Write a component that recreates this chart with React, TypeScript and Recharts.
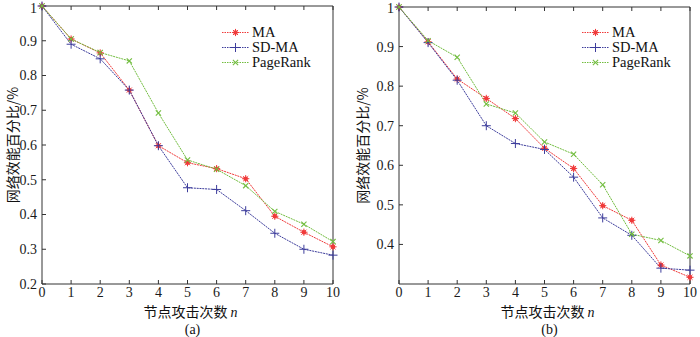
import { Line, LineChart, XAxis, YAxis, Legend } from 'recharts';

const attacks = [0, 1, 2, 3, 4, 5, 6, 7, 8, 9, 10];

// (a)
const maA = [1, 0.905, 0.865, 0.758, 0.598, 0.549, 0.532, 0.503, 0.395, 0.349, 0.307];
const sdmaA = [1, 0.89, 0.848, 0.758, 0.598, 0.477, 0.472, 0.411, 0.346, 0.3, 0.283];
const prA = [1, 0.905, 0.866, 0.842, 0.692, 0.557, 0.53, 0.483, 0.409, 0.372, 0.322];

// (b)
const maB = [1, 0.912, 0.818, 0.769, 0.718, 0.643, 0.592, 0.498, 0.461, 0.348, 0.317];
const sdmaB = [1, 0.91, 0.815, 0.7, 0.655, 0.64, 0.57, 0.467, 0.423, 0.34, 0.335];
const prB = [1, 0.915, 0.873, 0.755, 0.732, 0.659, 0.628, 0.551, 0.426, 0.41, 0.371];

const yTicksA = [0.2, 0.3, 0.4, 0.5, 0.6, 0.7, 0.8, 0.9, 1];
const yTicksB = [0.4, 0.5, 0.6, 0.7, 0.8, 0.9, 1];

const RED = '#f03a3a';
const BLUE = '#3d3d9c';
const GREEN = '#72bd3f';
const AXIS = '#333';
const SERIF = '"Liberation Serif", "Times New Roman", serif';
const CJK = '"Noto Sans CJK SC", sans-serif';

function buildRows(ma: number[], sd: number[], pr: number[]) {
  return attacks.map((n, i) => ({ n, MA: ma[i], 'SD-MA': sd[i], PageRank: pr[i] }));
}

function StarMark({ cx, cy }: { cx: number; cy: number }) {
  const r = 3.6;
  return (
    <g stroke={RED} strokeWidth={1} fill={RED}>
      <circle cx={cx} cy={cy} r={2.2} stroke="none" />
      <line x1={cx - r} y1={cy} x2={cx + r} y2={cy} />
      <line x1={cx} y1={cy - r} x2={cx} y2={cy + r} />
      <line x1={cx - r * 0.7} y1={cy - r * 0.7} x2={cx + r * 0.7} y2={cy + r * 0.7} />
      <line x1={cx - r * 0.7} y1={cy + r * 0.7} x2={cx + r * 0.7} y2={cy - r * 0.7} />
    </g>
  );
}

function PlusMark({ cx, cy }: { cx: number; cy: number }) {
  const r = 4.5;
  return (
    <g stroke={BLUE} strokeWidth={1}>
      <line x1={cx - r} y1={cy} x2={cx + r} y2={cy} />
      <line x1={cx} y1={cy - r} x2={cx} y2={cy + r} />
    </g>
  );
}

function CrossMark({ cx, cy }: { cx: number; cy: number }) {
  const r = 2.6;
  return (
    <g stroke={GREEN} strokeWidth={1.1}>
      <line x1={cx - r} y1={cy - r} x2={cx + r} y2={cy + r} />
      <line x1={cx - r} y1={cy + r} x2={cx + r} y2={cy - r} />
    </g>
  );
}

const MARKS: Record<string, (p: { cx: number; cy: number }) => JSX.Element> = {
  MA: StarMark,
  'SD-MA': PlusMark,
  PageRank: CrossMark
};

const COLORS: Record<string, string> = { MA: RED, 'SD-MA': BLUE, PageRank: GREEN };

function dotFor(name: string) {
  const Mark = MARKS[name];
  return (props: any) => {
    if (props.cx == null || props.cy == null) return <g key={`${name}-${props.index}`} />;
    return (
      <g key={`${name}-${props.index}`}>
        <Mark cx={props.cx} cy={props.cy} />
      </g>
    );
  };
}

function LegendBox() {
  const names = ['MA', 'SD-MA', 'PageRank'];
  return (
    <div>
      {names.map((name) => {
        const Mark = MARKS[name];
        return (
          <div key={name} style={{ display: 'flex', alignItems: 'center', height: 15 }}>
            <svg width={30} height={15} style={{ display: 'block' }}>
              <line x1={0} y1={7.5} x2={27} y2={7.5} stroke={COLORS[name]} strokeWidth={1} strokeDasharray="1.5 1" />
              <Mark cx={13.5} cy={7.5} />
            </svg>
            <span style={{ fontFamily: SERIF, fontSize: 14.5, color: '#111', lineHeight: '15px' }}>{name}</span>
          </div>
        );
      })}
    </div>
  );
}

function Panel({
  rows,
  yDomain,
  yTicks,
  leftWidth,
  rightMargin,
  top,
  legendLeft,
  caption
}: {
  rows: Record<string, number>[];
  yDomain: [number, number];
  yTicks: number[];
  leftWidth: number;
  rightMargin: number;
  top: number;
  legendLeft: number;
  caption: string;
}) {
  const tick = { fill: '#1a1a1a', fontSize: 14, fontFamily: SERIF };
  return (
    <LineChart width={350} height={337} data={rows} margin={{ top: top - 1, right: rightMargin, bottom: 0, left: 0 }}>
      <XAxis
        dataKey="n"
        type="number"
        domain={[0, 10]}
        ticks={attacks}
        stroke={AXIS}
        tick={tick}
        tickSize={-4}
        tickMargin={7}
        height={53}
        label={(p: any) => {
          const vb = p.viewBox || {};
          const cx = vb.x + vb.width / 2 + 3;
          return (
            <g>
              <text x={cx} y={vb.y + 33} textAnchor="middle" fontSize={14} fill="#111">
                <tspan fontFamily={CJK}>节点攻击次数 </tspan>
                <tspan fontFamily={SERIF} fontStyle="italic">n</tspan>
              </text>
              <text x={cx + 2} y={vb.y + 50} textAnchor="middle" fontSize={14} fill="#111" fontFamily={SERIF}>
                {caption}
              </text>
            </g>
          );
        }}
      />
      <XAxis
        xAxisId="top"
        dataKey="n"
        type="number"
        domain={[0, 10]}
        ticks={attacks}
        orientation="top"
        stroke={AXIS}
        tickSize={-4}
        tickFormatter={() => ''}
        height={1}
      />
      <YAxis
        type="number"
        domain={yDomain}
        ticks={yTicks}
        stroke={AXIS}
        tick={tick}
        tickSize={-4}
        tickMargin={9}
        width={leftWidth}
        tickFormatter={(v: number) => (v === 1 ? '1' : v.toFixed(1))}
        label={(p: any) => {
          const vb = p.viewBox || {};
          const cy = vb.y + vb.height / 2;
          return (
            <text
              x={12}
              y={cy}
              transform={`rotate(-90 12 ${cy})`}
              textAnchor="middle"
              dominantBaseline="central"
              fontSize={14}
              fontFamily={CJK}
              fill="#111"
            >
              网络效能百分比/%
            </text>
          );
        }}
      />
      <YAxis
        yAxisId="right"
        type="number"
        domain={yDomain}
        ticks={yTicks}
        orientation="right"
        stroke={AXIS}
        tickSize={-4}
        tickFormatter={() => ''}
        width={1}
      />
      <Legend
        layout="vertical"
        verticalAlign="middle"
        align="center"
        content={() => <LegendBox />}
        wrapperStyle={{ top: 25, left: legendLeft, width: 110 }}
      />
      {['MA', 'SD-MA', 'PageRank'].map((name) => (
        <Line
          key={name}
          type="linear"
          dataKey={name}
          stroke={COLORS[name]}
          strokeWidth={1}
          strokeDasharray="2 0.8"
          dot={dotFor(name)}
          activeDot={false}
          isAnimationActive={false}
        />
      ))}
    </LineChart>
  );
}

export default function App() {
  const rowsA = buildRows(maA, sdmaA, prA);
  const rowsB = buildRows(maB, sdmaB, prB);
  return (
    <div style={{ position: 'absolute', left: 0, top: 0, width: 700, height: 337, background: '#fff' }}>
      <div style={{ position: 'absolute', left: 0, top: 0 }}>
        <Panel
          rows={rowsA}
          yDomain={[0.2, 1]}
          yTicks={yTicksA}
          leftWidth={42}
          rightMargin={16}
          top={6}
          legendLeft={222}
          caption="(a)"
        />
      </div>
      <div style={{ position: 'absolute', left: 350, top: 0 }}>
        <Panel
          rows={rowsB}
          yDomain={[0.3, 1]}
          yTicks={yTicksB}
          leftWidth={49}
          rightMargin={9}
          top={7}
          legendLeft={232}
          caption="(b)"
        />
      </div>
    </div>
  );
}
